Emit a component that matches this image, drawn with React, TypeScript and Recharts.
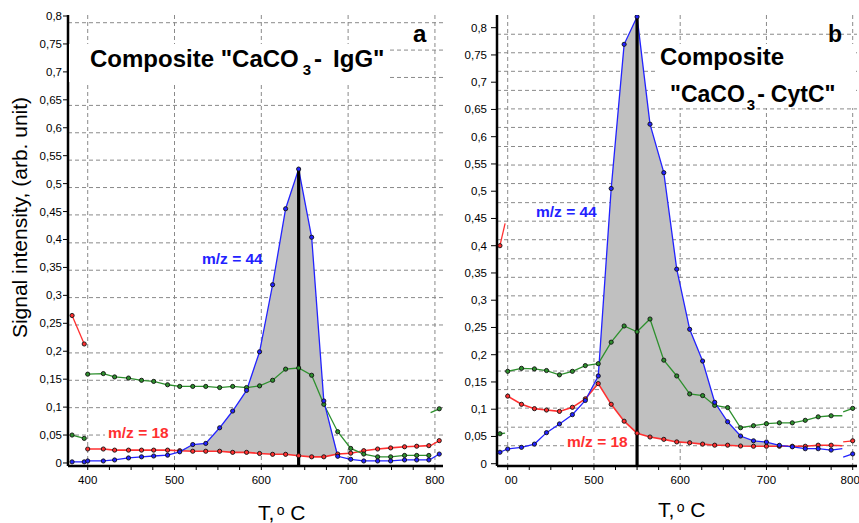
import React from 'react';
import { Area, CartesianGrid, ComposedChart, Line, XAxis, YAxis } from 'recharts';

const FONT = '"Liberation Sans", Arial, sans-serif';
const RED = '#ff3030';
const GREEN = '#2e902e';
const BLUE = '#2222ff';
const BAND = '#c0c0c0';

// shared axes
const X_TICKS = [400, 425, 450, 475, 500, 525, 550, 575, 600, 625, 650, 675, 700, 725, 750, 775, 800];
const X_MAJOR = [400, 500, 600, 700, 800];
const Y_TICKS = [0, 0.05, 0.1, 0.15, 0.2, 0.25, 0.3, 0.35, 0.4, 0.45, 0.5, 0.55, 0.6, 0.65, 0.7, 0.75, 0.8];

// ---- panel a : CaCO3 - IgG ----
const A_T = [400, 418, 431, 447, 462, 476, 492, 506, 521, 536, 552, 567, 583, 598, 613, 628, 643, 658, 672, 688, 703, 718, 734, 749, 765, 779, 793];
const A_M18 = [0.025, 0.025, 0.023, 0.023, 0.023, 0.023, 0.023, 0.022, 0.021, 0.021, 0.021, 0.019, 0.019, 0.017, 0.0155, 0.0155, 0.013, 0.011, 0.011, 0.016, 0.0175, 0.022, 0.025, 0.027, 0.029, 0.030, 0.031];
const A_GREEN = [0.159, 0.160, 0.154, 0.152, 0.148, 0.146, 0.140, 0.137, 0.137, 0.137, 0.135, 0.137, 0.135, 0.138, 0.148, 0.168, 0.170, 0.157, 0.105, 0.056, 0.026, 0.016, 0.011, 0.011, 0.0135, 0.0135, 0.0135];
const A_M44 = [0.0036, 0.0036, 0.0054, 0.009, 0.011, 0.0125, 0.014, 0.020, 0.033, 0.035, 0.063, 0.093, 0.130, 0.199, 0.319, 0.455, 0.526, 0.404, 0.111, 0.012, 0.0066, 0.0036, 0.0036, 0.0036, 0.0054, 0.0054, 0.0054];
const A_PRE_T = [382, 396];
const A_PRE_M18 = [0.264, 0.213];
const A_PRE_GREEN = [0.050, 0.044];
const A_PRE_M44 = [0.002, 0.002];
const A_POST_T = [795, 805];
const A_POST_M18 = [0.031, 0.040];
const A_POST_GREEN = [0.090, 0.097];
const A_POST_M44 = [0.0066, 0.016];
const A_PEAK_T = 643;
const A_PEAK_TOP = 0.527;
const A_GRID = [0.788, 0.739, 0.690, 0.640, 0.591, 0.542, 0.493, 0.444, 0.394, 0.345, 0.296, 0.247, 0.197, 0.148, 0.099, 0.050];

// ---- panel b : CaCO3 - CytC ----
const B_T = [400, 416, 431, 445, 460, 475, 490, 505, 520, 535, 550, 565, 581, 596, 611, 626, 640, 655, 670, 685, 700, 715, 730, 745, 760, 775, 788];
const B_M18 = [0.124, 0.109, 0.101, 0.0985, 0.096, 0.1035, 0.119, 0.147, 0.109, 0.078, 0.056, 0.049, 0.0447, 0.040, 0.0385, 0.036, 0.034, 0.034, 0.0325, 0.032, 0.032, 0.032, 0.032, 0.032, 0.034, 0.034, 0.033];
const B_GREEN = [0.1695, 0.175, 0.174, 0.171, 0.163, 0.1695, 0.180, 0.1835, 0.223, 0.2527, 0.242, 0.2655, 0.190, 0.161, 0.128, 0.125, 0.107, 0.103, 0.066, 0.0697, 0.0734, 0.075, 0.075, 0.0796, 0.086, 0.088, 0.088];
const B_M44 = [0.027, 0.030, 0.036, 0.057, 0.073, 0.090, 0.116, 0.161, 0.505, 0.7695, 0.820, 0.623, 0.534, 0.357, 0.2466, 0.1884, 0.1127, 0.077, 0.0508, 0.042, 0.0398, 0.0337, 0.031, 0.0275, 0.0275, 0.025, 0.0275];
const B_PRE_T = [391, 397];
const B_PRE_M18 = [0.40, 0.441];
const B_PRE_GREEN = [0.055, 0.056];
const B_PRE_M44_T = 391;
const B_PRE_M44 = 0.021;
const B_POST_T = [789, 800];
const B_POST_M18 = [0.040, 0.042];
const B_POST_GREEN = [0.095, 0.1016];
const B_POST_M44 = [0.012, 0.018];
const B_PEAK_T = 550;
const B_PEAK_TOP = 0.8233;
const B_GRID = [0.788, 0.754, 0.720, 0.685, 0.651, 0.617, 0.582, 0.548, 0.514, 0.479, 0.445, 0.411, 0.376, 0.342, 0.308, 0.273, 0.239, 0.205, 0.170, 0.136, 0.102, 0.067, 0.033];

type Pt = { t: number; v: number };
const seg = (ts: number[], vs: number[]): Pt[] => ts.map((t, i) => ({ t, v: vs[i] }));
const table = (ts: number[], red: number[], blue: number[]) =>
  ts.map((t, i) => ({ t, red: red[i], blue: blue[i] }));

const makeDot = (color: string, show: (i: number, n: number) => boolean, n: number) => (p: any) => {
  const { cx, cy, index } = p;
  if (cx == null || cy == null || !show(index, n)) return <g key={`n${index}`} />;
  return <circle key={`d${index}`} cx={cx} cy={cy} r={2.1} fill={color} stroke="#111" strokeWidth={0.9} />;
};
const all = () => true;
const first = (i: number) => i === 0;
const last = (i: number, n: number) => i === n - 1;
const notLast = (i: number, n: number) => i < n - 1;

type Series = { data: Pt[]; color: string; show: (i: number, n: number) => boolean; width?: number };

interface PanelProps {
  left: number;
  width: number;
  right: number;
  yWidth: number;
  yTickSize: number;
  yTickMargin: number;
  xDomain: [number, number];
  yDomain: [number, number];
  grid: number[];
  band: { t: number; red: number; blue: number }[];
  series: Series[];
  peak: Pt[];
  xLabel: (v: number) => { text: string; dx: number };
}

function Panel(p: PanelProps) {
  const axisStroke = { stroke: '#000', strokeWidth: 2.5 };
  return (
    <div style={{ position: 'absolute', left: p.left, top: 0 }}>
      <ComposedChart width={p.width} height={523} data={p.band} margin={{ top: 15, right: p.right, bottom: 27, left: 0 }}>
        <CartesianGrid stroke="#8a8a8a" strokeDasharray="4 3" horizontalValues={p.grid} verticalValues={X_MAJOR} />
        <XAxis
          dataKey="t"
          type="number"
          domain={p.xDomain}
          allowDataOverflow
          ticks={X_TICKS}
          interval={0}
          height={30}
          tickSize={4}
          tickMargin={4}
          axisLine={axisStroke}
          tickLine={{ stroke: '#000' }}
          tick={(t: any) => {
            const v = t.payload.value;
            if (v % 100 !== 0) return <g key={`x${v}`} />;
            const l = p.xLabel(v);
            return (
              <text key={`x${v}`} x={t.x + l.dx} y={t.y} dy={10} textAnchor="middle" fontSize={11.5} fontFamily={FONT} fill="#000">
                {l.text}
              </text>
            );
          }}
        />
        <XAxis xAxisId="top" orientation="top" dataKey="t" type="number" domain={p.xDomain} allowDataOverflow height={0} tick={false} axisLine={{ stroke: '#000', strokeWidth: 1.2 }} />
        <YAxis
          type="number"
          domain={p.yDomain}
          allowDataOverflow
          ticks={Y_TICKS}
          interval={0}
          width={p.yWidth}
          tickSize={p.yTickSize}
          tickMargin={p.yTickMargin}
          axisLine={axisStroke}
          tickLine={{ stroke: '#000' }}
          tick={(t: any) => (
            <text key={`y${t.payload.value}`} x={t.x} y={t.y} dy={4} textAnchor="end" fontSize={11.5} fontFamily={FONT} fill="#000">
              {String(t.payload.value).replace('.', ',')}
            </text>
          )}
        />
        <YAxis yAxisId="r" orientation="right" type="number" domain={p.yDomain} allowDataOverflow width={0} tick={false} axisLine={{ stroke: '#000', strokeWidth: 1.5 }} />
        <Area
          type="linear"
          dataKey={(d: any) => [d.red, Math.max(d.red, d.blue)]}
          fill={BAND}
          fillOpacity={1}
          stroke="none"
          isAnimationActive={false}
        />
        {p.series.map((s, i) => (
          <Line
            key={i}
            data={s.data}
            dataKey="v"
            type="linear"
            stroke={s.color}
            strokeWidth={s.width ?? 1.3}
            dot={makeDot(s.color, s.show, s.data.length)}
            activeDot={false}
            isAnimationActive={false}
          />
        ))}
        <Line data={p.peak} dataKey="v" type="linear" stroke="#000" strokeWidth={3.2} dot={false} activeDot={false} isAnimationActive={false} />
      </ComposedChart>
    </div>
  );
}

export default function App() {
  const aDomainY: [number, number] = [-0.0054, 0.8018];
  const bDomainY: [number, number] = [-0.0042, 0.8233];

  const aSeries: Series[] = [
    { data: seg(A_PRE_T, A_PRE_M18), color: RED, show: all },
    { data: seg(A_PRE_T, A_PRE_GREEN), color: GREEN, show: all },
    { data: seg(A_T, A_M18), color: RED, show: all, width: 1.6 },
    { data: seg(A_T, A_GREEN), color: GREEN, show: all },
    { data: seg([...A_PRE_T, ...A_T], [...A_PRE_M44, ...A_M44]), color: BLUE, show: all },
    { data: seg(A_POST_T, A_POST_M18), color: RED, show: last },
    { data: seg(A_POST_T, A_POST_GREEN), color: GREEN, show: last },
    { data: seg(A_POST_T, A_POST_M44), color: BLUE, show: last },
  ];
  const bSeries: Series[] = [
    { data: seg(B_PRE_T, B_PRE_M18), color: RED, show: first },
    { data: seg(B_PRE_T, B_PRE_GREEN), color: GREEN, show: first },
    { data: seg(B_T, B_M18), color: RED, show: notLast, width: 1.6 },
    { data: seg(B_T, B_GREEN), color: GREEN, show: notLast },
    { data: seg([B_PRE_M44_T, ...B_T], [B_PRE_M44, ...B_M44]), color: BLUE, show: notLast },
    { data: seg(B_POST_T, B_POST_M18), color: RED, show: last },
    { data: seg(B_POST_T, B_POST_GREEN), color: GREEN, show: last },
    { data: seg(B_POST_T, B_POST_M44), color: BLUE, show: last },
  ];

  const bold = { fontFamily: FONT, fontWeight: 700 } as const;

  return (
    <div style={{ position: 'absolute', left: 0, top: 0, width: 859, height: 523, background: '#fff', overflow: 'hidden' }}>
      <Panel
        left={0}
        width={450}
        right={7}
        yWidth={68}
        yTickSize={5}
        yTickMargin={1}
        xDomain={[377.3, 809.3]}
        yDomain={aDomainY}
        grid={A_GRID}
        band={table(A_T, A_M18, A_M44)}
        series={aSeries}
        peak={seg([A_PEAK_T, A_PEAK_T], [aDomainY[0], A_PEAK_TOP])}
        xLabel={(v) => ({ text: String(v), dx: 0 })}
      />
      <Panel
        left={450}
        width={409}
        right={2}
        yWidth={47}
        yTickSize={6}
        yTickMargin={4}
        xDomain={[387.6, 805]}
        yDomain={bDomainY}
        grid={B_GRID}
        band={table(B_T, B_M18, B_M44)}
        series={bSeries}
        peak={seg([B_PEAK_T, B_PEAK_T], [bDomainY[0], B_PEAK_TOP])}
        xLabel={(v) => (v === 400 ? { text: '00', dx: 3.5 } : v === 800 ? { text: '800', dx: -2.5 } : { text: String(v), dx: 0 })}
      />
      <svg width={859} height={523} style={{ position: 'absolute', left: 0, top: 0, pointerEvents: 'none' }}>
        <rect x={69} y={44} width={319} height={38} fill="#fff" />
        <rect x={657} y={44} width={199} height={64} fill="#fff" />
        <rect x={105} y={425} width={69} height={15} fill="#fff" />
        <rect x={565} y={433} width={64} height={16} fill="#fff" />

        <text x={90} y={66.5} fontSize={24} {...bold} fill="#000">
          Composite "CaCO
          <tspan fontSize={15} dx={4} dy={8}>3</tspan>
          <tspan dx={3} dy={-8}>-</tspan>
          <tspan dx={11}>IgG"</tspan>
        </text>
        <text x={413} y={42} fontSize={24} {...bold} fill="#000">a</text>

        <text x={660} y={65} fontSize={24} {...bold} fill="#000">Composite</text>
        <text x={670} y={101.7} fontSize={23} {...bold} fill="#000">
          "CaCO
          <tspan fontSize={15} dx={2} dy={8}>3</tspan>
          <tspan dx={2} dy={-8}>-</tspan>
          <tspan dx={6}>CytC"</tspan>
        </text>
        <text x={828} y={42} fontSize={23} {...bold} fill="#000">b</text>

        <text x={202} y={263.5} fontSize={15.5} {...bold} fill={BLUE}>m/z = 44</text>
        <text x={536} y={217} fontSize={15.5} {...bold} fill={BLUE}>m/z = 44</text>
        <text x={108} y={438} fontSize={15.5} {...bold} fill={RED}>m/z = 18</text>
        <text x={567} y={446.5} fontSize={15.5} {...bold} fill={RED}>m/z = 18</text>

        <text x={27} y={217.5} transform="rotate(-90 27 217.5)" textAnchor="middle" fontSize={21} fontFamily={FONT} fill="#000">
          Signal intensity, (arb. unit)
        </text>
        <text x={258} y={520} fontSize={21} fontFamily={FONT} fill="#000">
          T,
          <tspan fontSize={14} dx={2.5} dy={-5}>o</tspan>
          <tspan dx={5.5} dy={5}>C</tspan>
        </text>
        <text x={658} y={517} fontSize={21} fontFamily={FONT} fill="#000">
          T,
          <tspan fontSize={14} dx={2.5} dy={-5}>o</tspan>
          <tspan dx={5.5} dy={5}>C</tspan>
        </text>
      </svg>
    </div>
  );
}
